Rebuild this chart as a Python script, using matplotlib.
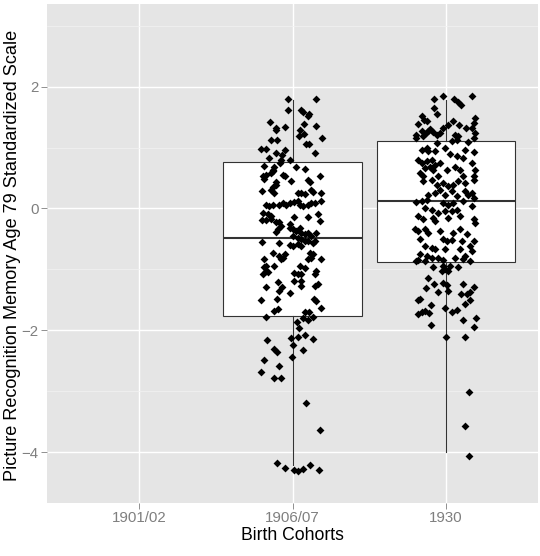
import matplotlib
matplotlib.use("Agg")
import matplotlib.pyplot as plt
import numpy as np

# -----------------------------
# Data
# -----------------------------
cohorts = ["1901/02", "1906/07", "1930"]

# box stats per cohort (1901/02 has no observations)
box_cohorts = ["1906/07", "1930"]
q1 = [-1.77, -0.88]
median = [-0.49, 0.12]
q3 = [0.766, 1.115]
whisker_lo = [-4.22, -4.0]
whisker_hi = [1.78, 1.78]

# jittered points, 1906/07: horizontal jitter offset and score
jitter_0607 = [
    -0.03, 0.155, -0.03, 0.057, 0.068, 0.11, 0.10, -0.146, 0.074, 0.155,
    -0.107, -0.11, -0.048, 0.046, 0.074, 0.04, 0.194, -0.14, -0.10, 0.09,
    0.11, -0.205, -0.172, -0.048, -0.107, -0.07, 0.146, -0.15, -0.074, -0.015,
    -0.08, -0.183, -0.118, 0.024, 0.079, -0.13,
    -0.194, -0.183, -0.172, -0.14, -0.129, -0.063, -0.052, -0.009, 0.10, 0.111,
    0.177, -0.107, -0.199, -0.14, -0.129, -0.118, -0.107, 0.035, 0.057, 0.079,
    0.122, 0.133, 0.188, -0.172, -0.15, -0.129, -0.085, -0.063, -0.041, -0.019,
    0.013, 0.035, 0.046, 0.068, 0.10, 0.122, 0.144, 0.188, -0.194, -0.161,
    -0.14, 0.013, 0.10, 0.166, -0.199, -0.172, -0.14, -0.107, -0.085, -0.019,
    0.177, -0.074, -0.096, -0.107, -0.019, 0.002, 0.024, 0.046, 0.057, 0.079,
    0.10, 0.122, 0.155, 0.002, 0.035, 0.057, 0.079, 0.10, 0.133, -0.199,
    -0.085, -0.019, 0.002, 0.035, 0.057, 0.144, -0.129, -0.085, -0.063, -0.052,
    0.111, 0.133, 0.122, 0.10, 0.188, -0.183, -0.074, -0.183, -0.172, -0.118,
    0.046, 0.079,
    -0.172, -0.194, -0.161, 0.013, 0.035, 0.057, 0.155, 0.144, 0.013, 0.057,
    0.057, -0.172, -0.096, -0.068, -0.09, -0.019, 0.144, 0.166, -0.205, -0.102,
    0.138, 0.155, 0.188, -0.118, -0.096, -0.172, 0.079, 0.107, 0.068, 0.10,
    0.133, 0.028, 0.042, -0.013, 0.035, 0.083, 0.133, -0.168, 0.002, -0.118,
    -0.102, 0.068, -0.002, -0.188, -0.085, -0.205, -0.122, -0.074,
    0.09, 0.177, -0.102, -0.048, 0.013, 0.035, 0.068, 0.116, 0.17,
]
score_0607 = [
    1.79, 1.80, 1.61, 1.61, 1.585, 1.55, 1.525, 1.42, 1.39, 1.36,
    1.32, 1.295, 1.33, 1.295, 1.225, 1.197, 1.164, 1.13, 1.12, 1.066,
    1.066, 0.97, 0.97, 0.96, 0.913, 0.885, 0.913, 0.83, 0.80, 0.79,
    0.74, 0.705, 0.683, 0.678, 0.65, 0.64,
    0.53, 0.486, 0.557, 0.584, 0.61, 0.557, 0.53, 0.448, 0.475, 0.43,
    0.54, 0.43, 0.284, 0.31, 0.355, 0.256, 0.393, 0.256, 0.246, 0.24,
    0.31, 0.267, 0.246, 0.065, 0.038, 0.049, 0.065, 0.093, 0.065, 0.093,
    0.104, 0.12, 0.065, 0.038, 0.065, 0.093, 0.093, 0.12, -0.071, -0.099,
    -0.126, -0.142, -0.142, -0.099, -0.192, -0.192, -0.18, -0.219, -0.224, -0.263,
    -0.208, -0.29, -0.345, -0.388, -0.317, -0.345, -0.372, -0.317, -0.399, -0.427,
    -0.41, -0.454, -0.399, -0.454, -0.481, -0.509, -0.536, -0.536, -0.563, -0.547,
    -0.563, -0.607, -0.618, -0.59, -0.618, -0.536, -0.727, -0.782, -0.809, -0.754,
    -0.727, -0.754, -0.809, -0.836, -0.836, -0.836, -0.836, -0.962, -0.946, -0.946,
    -0.946, -0.973,
    -1.027, -1.082, -1.05, -1.065, -1.082, -1.082, -1.027, -1.082, -1.19, -1.19,
    -1.27, -1.284, -1.21, -1.284, -1.355, -1.382, -1.27, -1.246, -1.503, -1.492,
    -1.48, -1.52, -1.628, -1.683, -1.656, -1.781, -1.699, -1.699, -1.792, -1.83,
    -1.781, -1.858, -1.956, -2.131, -2.104, -2.082, -2.147, -2.158, -2.24, -2.311,
    -2.355, -2.322, -2.432, -2.486, -2.585, -2.683, -2.776, -2.776,
    -3.20, -3.64, -4.18, -4.27, -4.29, -4.31, -4.28, -4.22, -4.295,
]

# jittered points, 1930
jitter_1930 = [
    -0.076, -0.017, 0.053, 0.169, 0.081, 0.099, -0.076, -0.056, -0.159, -0.141,
    -0.126, -0.181, 0.049, 0.016, 0.088, 0.132, 0.18, 0.191, 0.173, -0.017,
    -0.104, -0.115, -0.159, -0.192, -0.198, -0.082, -0.06, -0.039, -0.148, -0.133,
    0.06, 0.077, 0.07, 0.038, 0.143, 0.191, 0.18, -0.06, -0.159, -0.126,
    -0.115, -0.071, -0.006, 0.027, 0.125, 0.186, 0.07, 0.114, -0.181, -0.159,
    -0.126, -0.093, -0.071, -0.039, -0.137, -0.104, -0.082, 0.005, 0.06, 0.092,
    0.173, 0.191, -0.17, -0.148, -0.05, 0.114, 0.18,
    -0.148, -0.093, -0.06, -0.017, 0.016, 0.049, 0.081, 0.125, 0.18, -0.115,
    -0.071, -0.039, -0.006, 0.038, 0.07, 0.125, 0.147, 0.169, 0.18, -0.192,
    -0.159, -0.126, -0.017, 0.016, 0.049, 0.114, 0.169, -0.137, -0.093, -0.05,
    -0.006, 0.038, 0.07, -0.181, -0.148, -0.082, 0.016, 0.092, 0.18, 0.191,
    -0.071, -0.203, -0.181, -0.137, -0.115, -0.039, 0.049, 0.092, 0.136, -0.17,
    -0.017, 0.005, 0.038, 0.103, 0.18, -0.137, -0.093, -0.071, -0.006, 0.092,
    0.158, 0.169, -0.17, -0.126, -0.093, -0.05, 0.06, 0.125, 0.114, -0.181,
    -0.137, -0.192, 0.158, -0.017, -0.082, -0.017, 0.027, 0.081,
    -0.028, -0.006, 0.016, -0.12, -0.076, -0.133, -0.017, 0.005, 0.016, -0.054,
    0.114, 0.18, 0.099, 0.136, 0.158, -0.17, -0.181, 0.158, 0.125, -0.098,
    -0.006, -0.181, -0.159, -0.137, -0.109, 0.042, 0.07, 0.114, 0.195, -0.098,
    0.18, 0.0, 0.125,
    0.153, 0.121, 0.153,
]
score_1930 = [
    1.798, 1.853, 1.798, 1.853, 1.743, 1.705, 1.65, 1.552, 1.514, 1.459,
    1.432, 1.394, 1.432, 1.377, 1.377, 1.323, 1.405, 1.487, 1.323, 1.323,
    1.306, 1.268, 1.268, 1.213, 1.159, 1.252, 1.213, 1.241, 1.186, 1.241,
    1.213, 1.186, 1.131, 1.104, 1.088, 1.241, 1.159, 1.077, 0.967, 0.995,
    0.94, 0.94, 0.995, 0.902, 0.967, 0.924, 0.858, 0.831, 0.803, 0.749,
    0.776, 0.803, 0.722, 0.749, 0.667, 0.683, 0.629, 0.64, 0.683, 0.64,
    0.749, 0.64, 0.585, 0.53, 0.53, 0.53, 0.53,
    0.448, 0.475, 0.393, 0.42, 0.366, 0.393, 0.448, 0.42, 0.475, 0.229,
    0.256, 0.311, 0.229, 0.284, 0.202, 0.284, 0.229, 0.256, 0.175, 0.104,
    0.12, 0.136, 0.093, 0.065, 0.093, 0.12, 0.038, 0.011, -0.017, -0.071,
    -0.044, -0.044, -0.017, -0.126, -0.17, -0.153, -0.153, -0.126, -0.18, -0.235,
    -0.208, -0.345, -0.372, -0.345, -0.399, -0.372, -0.399, -0.345, -0.427, -0.508,
    -0.508, -0.536, -0.52, -0.536, -0.536, -0.618, -0.645, -0.672, -0.672, -0.672,
    -0.618, -0.70, -0.754, -0.782, -0.809, -0.809, -0.809, -0.782, -0.836, -0.847,
    -0.864, -0.864, -0.864, -0.847, -0.957, -0.946, -0.946, -0.957,
    -1.027, -1.0, -1.027, -1.147, -1.235, -1.30, -1.218, -1.262, -1.355, -1.371,
    -1.246, -1.29, -1.399, -1.399, -1.366, -1.48, -1.508, -1.508, -1.574, -1.59,
    -1.628, -1.727, -1.70, -1.683, -1.71, -1.70, -1.672, -1.83, -1.792, -1.913,
    -1.94, -2.104, -2.104,
    -3.01, -3.568, -4.07,
]

# -----------------------------
# Figure
# -----------------------------
plt.rcParams["font.family"] = ["Liberation Sans", "DejaVu Sans"]

W, H = 540, 556
fig = plt.figure(figsize=(W / 100, H / 100), dpi=100)
ax = fig.add_axes([47 / W, (H - 503) / H, 491 / W, 499 / H])
ax.set_facecolor("#E5E5E5")

pos = {c: i + 1 for i, c in enumerate(cohorts)}

stats = []
for i, c in enumerate(box_cohorts):
    stats.append(dict(med=median[i], q1=q1[i], q3=q3[i],
                      whislo=whisker_lo[i], whishi=whisker_hi[i], label=c))

ax.bxp(stats, positions=[pos[c] for c in box_cohorts], widths=0.9,
       showfliers=False, showcaps=False, patch_artist=True,
       boxprops=dict(facecolor="white", edgecolor="#333333", linewidth=0.8),
       whiskerprops=dict(color="#333333", linewidth=0.8),
       medianprops=dict(color="#333333", linewidth=1.5),
       zorder=2)

ax.scatter(pos["1906/07"] + np.array(jitter_0607), score_0607,
           marker="D", s=16, color="black", linewidths=0, zorder=3)
ax.scatter(pos["1930"] + np.array(jitter_1930), score_1930,
           marker="D", s=16, color="black", linewidths=0, zorder=3)

ax.set_xlim(0.4, 3.6)
ax.set_ylim(-4.837, 3.358)
ax.set_xticks([1, 2, 3])
ax.set_xticklabels(cohorts)
ax.set_yticks([-4, -2, 0, 2])
ax.set_yticks([-3, -1, 1, 3], minor=True)

ax.grid(which="major", color="white", linewidth=1.0)
ax.grid(which="minor", color="#F2F2F2", linewidth=0.5)
ax.set_axisbelow(True)
for s in ax.spines.values():
    s.set_visible(False)

ax.tick_params(axis="both", which="major", colors="#7F7F7F", length=4,
               width=0.6, labelsize=10.8, labelcolor="#7F7F7F", pad=2)
ax.tick_params(axis="both", which="minor", length=0)

ax.set_xlabel("Birth Cohorts", fontsize=12.7, color="black", labelpad=1)
ax.set_ylabel("Picture Recognition Memory Age 79 Standardized Scale",
              fontsize=13.1, color="black")
ax.yaxis.label.set_verticalalignment("center")
ax.yaxis.set_label_coords(-0.070, 0.497)

fig.savefig("out.png", dpi=100)
